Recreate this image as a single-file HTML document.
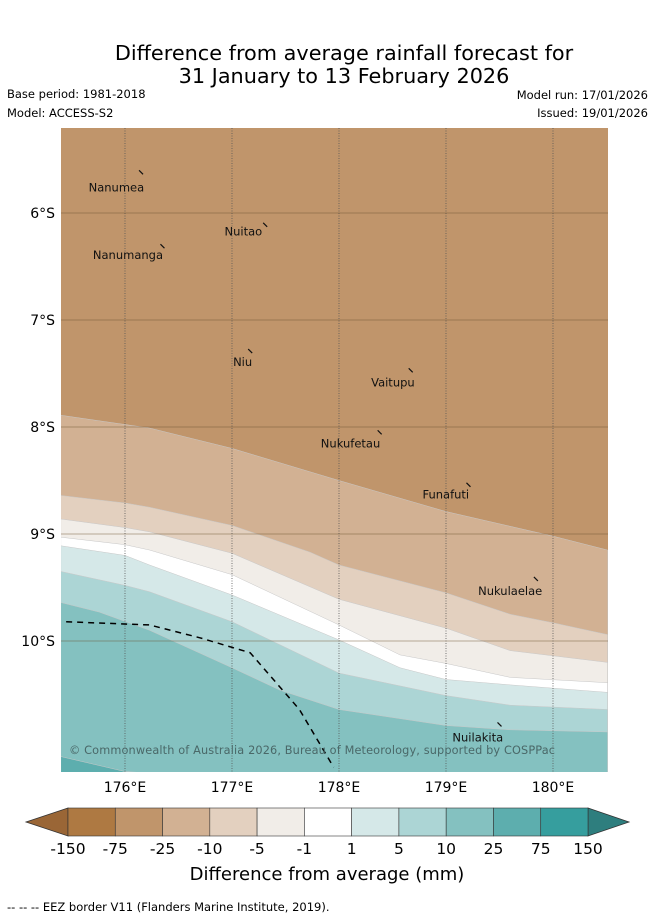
<!DOCTYPE html>
<html><head><meta charset="utf-8"><style>
body{margin:0;background:#fff;font-family:"DejaVu Sans","Liberation Sans",sans-serif;}
svg text{font-family:"DejaVu Sans","Liberation Sans",sans-serif;}
</style></head><body>
<svg id="c" width="655" height="919" xmlns="http://www.w3.org/2000/svg">
<text x="344" y="60" font-size="20.8" text-anchor="middle">Difference from average rainfall forecast for</text>
<text x="344" y="83" font-size="20.8" text-anchor="middle">31 January to 13 February 2026</text>
<text x="7" y="98" font-size="11.5">Base period: 1981-2018</text>
<text x="7" y="117" font-size="11.5">Model: ACCESS-S2</text>
<text x="648" y="99" font-size="11.5" text-anchor="end">Model run: 17/01/2026</text>
<text x="648" y="117" font-size="11.5" text-anchor="end">Issued: 19/01/2026</text>
<defs><clipPath id="mc"><rect x="61" y="128" width="547" height="644"/></clipPath></defs>
<g id="map" clip-path="url(#mc)"></g>
<g id="ax"></g>
<g id="cb"></g>
<text x="327" y="880" font-size="18" text-anchor="middle">Difference from average (mm)</text>
<text x="7" y="911" font-size="11.5">--  --  -- EEZ border V11 (Flanders Marine Institute, 2019).</text>
</svg>
<script>
const NS="http://www.w3.org/2000/svg";
const bandColors=["#c0956b","#d2b193","#e3d0bf","#f1ede8","#ffffff","#d5e8e8","#acd5d5","#84c1c0","#5daeae"];
const boundaryLons=[
[175.4,176.23,177,178,179,180,180.51],
[175.4,176,176.23,177,177.73,178,179,179.6,180,180.51],
[175.4,176,176.23,177,178,179,179.6,180.51],
[175.4,176,176.23,177,178,178.57,179,179.6,180.51],
[175.4,176,176.23,177,178,178.57,179,179.6,180.51],
[175.4,176,176.23,177,178,179,179.6,180.51],
[175.4,175.76,176.23,177,177.45,178,179,179.6,180.51],
[175.4,176,180.51]];
const boundaryLats=[
[7.89,8.01,8.20,8.50,8.79,9.02,9.15],
[8.64,8.71,8.75,8.92,9.17,9.29,9.55,9.75,9.83,9.94],
[8.86,8.94,8.98,9.18,9.61,9.88,10.09,10.20],
[9.03,9.10,9.15,9.38,9.85,10.13,10.21,10.34,10.39],
[9.11,9.20,9.29,9.57,9.99,10.25,10.36,10.41,10.48],
[9.35,9.48,9.54,9.82,10.30,10.51,10.60,10.64],
[9.64,9.73,9.90,10.25,10.46,10.64,10.79,10.83,10.85],
[11.08,11.22,11.5]];
const eezLons=[175.45,176.23,176.7,177.17,177.63,177.95];
const eezLats=[9.82,9.85,9.97,10.11,10.64,11.18];
const lonTicks=[176,177,178,179,180];
const latTicks=[6,7,8,9,10];
const islandNames=["Nanumea","Nuitao","Nanumanga","Niu","Vaitupu","Nukufetau","Funafuti","Nukulaelae","Nuilakita"];
const islandLabelLon=[175.66,176.93,175.70,177.01,178.30,177.83,178.78,179.30,179.06];
const islandLabelLat=[5.80,6.21,6.43,7.43,7.62,8.19,8.67,9.57,10.94];
const islandMarkLon=[176.15,177.31,176.35,177.17,178.67,178.38,179.21,179.84,179.5];
const islandMarkLat=[5.62,6.11,6.31,7.29,7.47,8.05,8.54,9.42,10.78];
const cbLabels=["-150","-75","-25","-10","-5","-1","1","5","10","25","75","150"];
const cbColors=["#ae7942","#c0956b","#d2b193","#e3d0bf","#f1ede8","#ffffff","#d5e8e8","#acd5d5","#84c1c0","#5daeae","#369e9e"];
const X=lon=>125+(lon-176)*107, Y=lat=>213+(lat-6)*107;
function mk(t,a,p){const e=document.createElementNS(NS,t);for(const k in a)e.setAttribute(k,a[k]);p.appendChild(e);return e;}
const map=document.getElementById('map');
const bg=mk('rect',{x:61,y:128,width:547,height:644,fill:bandColors[0]},map);


boundaryLons.forEach((lons,i)=>{
 let d=lons.map((l,j)=>(j?'L':'M')+X(l)+' '+Y(boundaryLats[i][j])).join(' ');
 d+=' L'+X(lons[lons.length-1])+' 800 L'+X(lons[0])+' 800 Z';
 const p=mk('path',{d:d,fill:bandColors[i+1],stroke:'#c8c8c8','stroke-width':0.5},map);
 
 
});
const ax=document.getElementById('ax');
lonTicks.forEach(l=>{
 const g=mk('line',{x1:X(l),x2:X(l),y1:128,y2:772,stroke:'#555','stroke-width':0.8,'stroke-dasharray':'1,1.5'},map);
 
 
 const t=mk('text',{x:X(l),y:792,'font-size':14,'text-anchor':'middle'},ax);t.textContent=l+'°E';
 
 
});
latTicks.forEach(l=>{
 const g=mk('line',{x1:61,x2:608,y1:Y(l),y2:Y(l),stroke:'#6a5030','stroke-width':0.8,'stroke-opacity':0.6},map);
 
 
 const t=mk('text',{x:55,y:Y(l)+5,'font-size':14,'text-anchor':'end'},ax);t.textContent=l+'°S';
 
 
});
const eez=mk('path',{d:eezLons.map((l,j)=>(j?'L':'M')+X(l)+' '+Y(eezLats[j])).join(' '),fill:'none',stroke:'#000','stroke-width':1.5,'stroke-dasharray':'6,5'},map);


islandNames.forEach((n,i)=>{
 const t=mk('text',{x:X(islandLabelLon[i]),y:Y(islandLabelLat[i]),'font-size':11.5,'text-anchor':'start',fill:'#111'},map);t.textContent=n;
 
 
 const mx=X(islandMarkLon[i]),my=Y(islandMarkLat[i]);
 const m=mk('line',{x1:mx-2,y1:my-2,x2:mx+2,y2:my+2,stroke:'#111','stroke-width':1.2},map);
 
 
});
const cp=mk('text',{x:69,y:754,'font-size':11.3,fill:'#4a6868',textLength:486},map);cp.textContent='© Commonwealth of Australia 2026, Bureau of Meteorology, supported by COSPPac';


const cb=document.getElementById('cb');
const bw=(588-68)/cbColors.length;
const lt=mk('polygon',{points:'68,808 26,822 68,836',fill:'#9a6636',stroke:'#333','stroke-width':0.8},cb);


const rt=mk('polygon',{points:'588,808 629,822 588,836',fill:'#2e7e7e',stroke:'#333','stroke-width':0.8},cb);


cbColors.forEach((c,i)=>{
 const r=mk('rect',{x:68+i*bw,y:808,width:bw,height:28,fill:c,stroke:'#333','stroke-width':0.6},cb);
 
 
});
cbLabels.forEach((s,i)=>{
 const t=mk('text',{x:68+i*bw,y:854,'font-size':15.5,'text-anchor':'middle'},cb);t.textContent=s;
 
 
});
</script>
</body></html>
